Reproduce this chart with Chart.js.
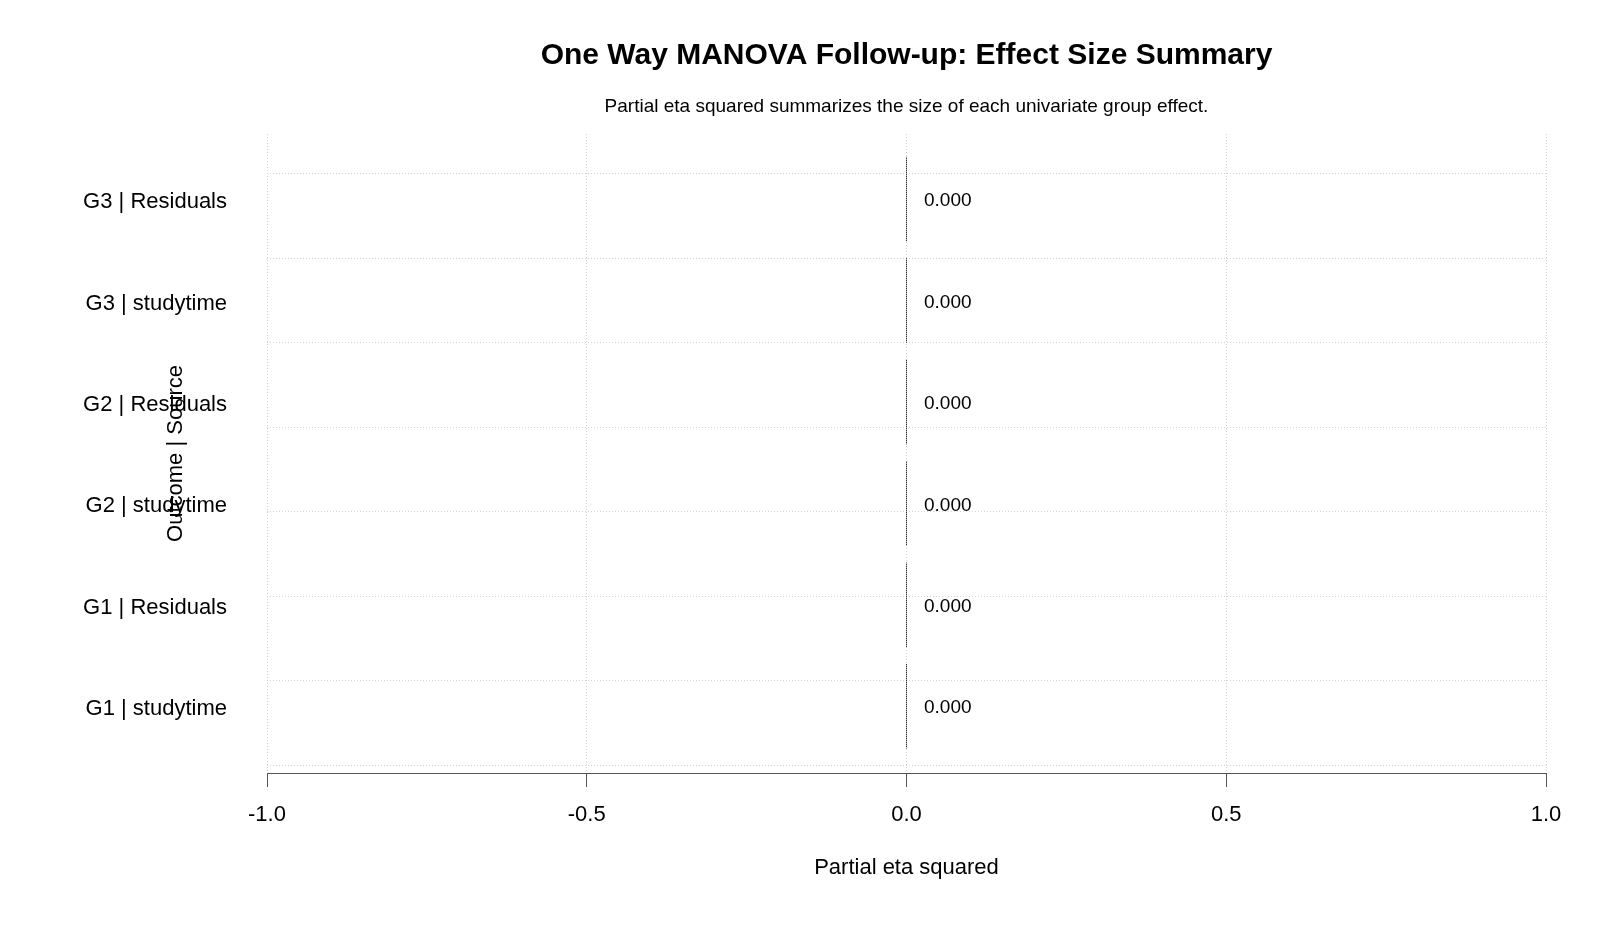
<!DOCTYPE html>
<html>
<head>
<meta charset="utf-8">
<title>One Way MANOVA Follow-up: Effect Size Summary</title>
<script src="https://cdn.jsdelivr.net/npm/chart.js@4.4.1/dist/chart.umd.min.js"></script>
<style>
    html, body { margin: 0; padding: 0; background: #fff; }
</style>
</head>
<body>
<canvas id="effectChart" width="1600" height="933"></canvas>
<script>
// data, bottom bar first (as barplot draws them)
const categories = ['G1 | studytime', 'G1 | Residuals', 'G2 | studytime', 'G2 | Residuals', 'G3 | studytime', 'G3 | Residuals'];
const etaSquared = [0, 0, 0, 0, 0, 0];
const xTickValues = [-1, -0.5, 0, 0.5, 1];
const xTickLabels = ['-1.0', '-0.5', '0.0', '0.5', '1.0'];

(function() {
    const FONT = '"Liberation Sans", Arial, sans-serif';
    // barplot layout: bar width 1, gap 0.2
    const BAR_W = 1, BAR_GAP = 0.2;
    const barMid = i => BAR_GAP + BAR_W / 2 + i * (BAR_W + BAR_GAP);
    const Y_MIN = -0.09, Y_MAX = 7.47;

    const canvas = document.getElementById('effectChart');
    const ctx = canvas.getContext('2d');

    // dotted dark fill for the zero-width bars
    const pc = document.createElement('canvas');
    pc.width = 1; pc.height = 2;
    const pctx = pc.getContext('2d');
    pctx.fillStyle = '#333'; pctx.fillRect(0, 0, 1, 1);
    pctx.fillStyle = '#aaa'; pctx.fillRect(0, 1, 1, 1);
    const barPattern = ctx.createPattern(pc, 'repeat');

    // value text right of each bar
    const valueLabels = {
        id: 'valueLabels',
        afterDatasetsDraw(chart) {
            const c = chart.ctx;
            const meta = chart.getDatasetMeta(0);
            c.save();
            c.font = '19px ' + FONT;
            c.fillStyle = '#000';
            c.textBaseline = 'middle';
            c.textAlign = 'left';
            meta.data.forEach((bar, i) => {
                c.fillText(etaSquared[i].toFixed(3), bar.x + 18, bar.y + 2);
            });
            c.restore();
        }
    };

    new Chart(ctx, {
        type: 'bar',
        data: {
            datasets: [{
                data: categories.map((c, i) => ({ x: etaSquared[i], y: barMid(i) })),
                backgroundColor: barPattern,
                borderWidth: 0,
                minBarLength: 1,
                barPercentage: 1,
                categoryPercentage: BAR_W / (BAR_W + BAR_GAP),
                yAxisID: 'y'
            }]
        },
        options: {
            indexAxis: 'y',
            responsive: false,
            animation: false,
            layout: { padding: { top: 0, right: 54, bottom: 0, left: 0 } },
            plugins: {
                legend: { display: false },
                tooltip: { enabled: false },
                title: {
                    display: true,
                    text: 'One Way MANOVA Follow-up: Effect Size Summary',
                    fullSize: false,
                    color: '#000',
                    font: { family: FONT, size: 30, weight: 'bold', lineHeight: 1.2 },
                    padding: { top: 38, bottom: 0 }
                },
                subtitle: {
                    display: true,
                    text: 'Partial eta squared summarizes the size of each univariate group effect.',
                    fullSize: false,
                    color: '#000',
                    font: { family: FONT, size: 19, lineHeight: 1.2 },
                    padding: { top: 21.6, bottom: 15.6 }
                }
            },
            scales: {
                x: {
                    type: 'linear',
                    position: 'bottom',
                    min: -1,
                    max: 1,
                    afterBuildTicks: s => { s.ticks = xTickValues.map(v => ({ value: v })); },
                    afterFit: s => { s.height = 160; },
                    ticks: {
                        color: '#000',
                        font: { family: FONT, size: 22 },
                        padding: 15,
                        maxRotation: 0,
                        autoSkip: false,
                        callback: (v, i) => xTickLabels[i]
                    },
                    grid: {
                        color: '#d3d3d3',
                        lineWidth: 1,
                        drawTicks: true,
                        tickLength: 14,
                        tickColor: '#555',
                        tickWidth: 1,
                        tickBorderDash: []
                    },
                    border: { display: true, color: '#555', width: 1, dash: [1, 2] },
                    title: {
                        display: true,
                        text: 'Partial eta squared',
                        color: '#000',
                        font: { family: FONT, size: 22, lineHeight: 1.2 },
                        padding: { top: 0, bottom: 51.8 }
                    }
                },
                y: {
                    type: 'linear',
                    position: 'left',
                    offset: false,
                    min: Y_MIN,
                    max: Y_MAX,
                    afterBuildTicks: s => { s.ticks = categories.map((c, i) => ({ value: barMid(i) })); },
                    afterFit: s => { s.width = 267; },
                    ticks: {
                        color: '#000',
                        font: { family: FONT, size: 22 },
                        padding: 40,
                        labelOffset: 3,
                        autoSkip: false,
                        callback: (v, i) => categories[i]
                    },
                    grid: { display: false, drawTicks: false, offset: false },
                    border: { display: false },
                    title: {
                        display: true,
                        text: 'Outcome | Source',
                        color: '#000',
                        font: { family: FONT, size: 22, lineHeight: 1.2 },
                        padding: { top: 163, bottom: 0 }
                    }
                },
                yGrid: {
                    type: 'linear',
                    position: 'right',
                    offset: false,
                    min: Y_MIN,
                    max: Y_MAX,
                    afterBuildTicks: s => {
                        const t = [];
                        for (let v = Math.ceil(Y_MIN); v <= Math.floor(Y_MAX); v++) t.push({ value: v });
                        s.ticks = t;
                    },
                    afterFit: s => { s.width = 0; },
                    ticks: { display: false },
                    grid: { color: '#d3d3d3', lineWidth: 1, drawTicks: false, offset: false },
                    border: { display: false, dash: [1, 2] }
                }
            }
        },
        plugins: [valueLabels]
    });
})();
</script>
</body>
</html>
